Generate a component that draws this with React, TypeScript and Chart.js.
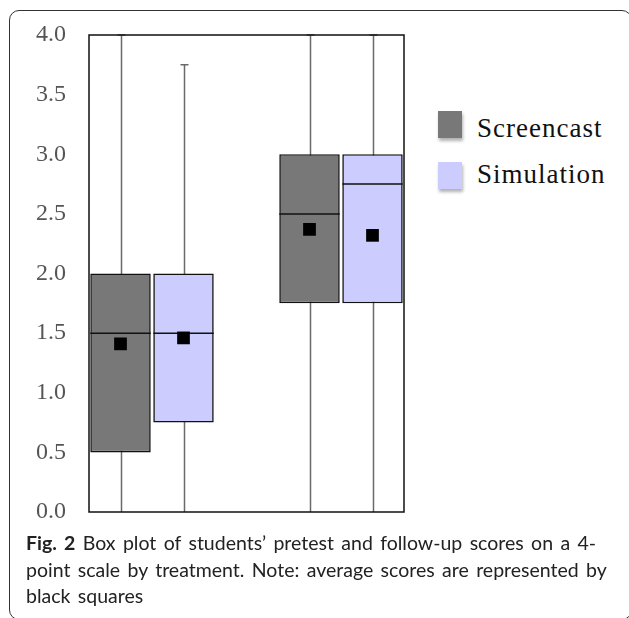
import React, { useEffect, useRef } from "react";
import { Chart, registerables } from "chart.js";

Chart.register(...registerables);

// ---- data ----
const slotLabels = ["Pretest Screencast", "Pretest Simulation", "", "Follow-up Screencast", "Follow-up Simulation"];
const screencastSlots = [0, 3];
const simulationSlots = [1, 4];

const screencastMin = [0, 0];
const screencastQ1 = [0.5, 1.75];
const screencastMedian = [1.5, 2.5];
const screencastQ3 = [2.0, 3.0];
const screencastMax = [4.0, 4.0];
const screencastMean = [1.41, 2.37];

const simulationMin = [0, 0];
const simulationQ1 = [0.75, 1.75];
const simulationMedian = [1.5, 2.75];
const simulationQ3 = [2.0, 3.0];
const simulationMax = [3.75, 4.0];
const simulationMean = [1.46, 2.32];

const yTicks = [0, 0.5, 1, 1.5, 2, 2.5, 3, 3.5, 4];

const SCREENCAST_COLOR = "#787878";
const SIMULATION_COLOR = "#CCCCFF";

type Stat = { min: number; q1: number; med: number; q3: number; max: number; mean: number } | null;

function buildStats(slots: number[], mins: number[], q1: number[], med: number[], q3: number[], max: number[], mean: number[]): Stat[] {
  const out: Stat[] = slotLabels.map(() => null);
  slots.forEach((s, i) => {
    out[s] = { min: mins[i], q1: q1[i], med: med[i], q3: q3[i], max: max[i], mean: mean[i] };
  });
  return out;
}

const boxPlotPlugin = {
  id: "boxPlotExtras",
  beforeDatasetsDraw(chart: any) {
    const ctx = chart.ctx;
    const x = chart.scales.x;
    const y = chart.scales.y;
    ctx.save();
    chart.data.datasets.forEach((ds: any) => {
      if (!ds.stats) return;
      ds.stats.forEach((s: Stat, i: number) => {
        if (!s) return;
        const cx = Math.round(x.getPixelForValue(i)) + 0.5;
        ctx.strokeStyle = "#6a6a6a";
        ctx.lineWidth = 1.5;
        ctx.beginPath();
        ctx.moveTo(cx, y.getPixelForValue(s.min));
        ctx.lineTo(cx, y.getPixelForValue(s.max));
        const ty = y.getPixelForValue(s.max);
        ctx.moveTo(cx - 4, ty);
        ctx.lineTo(cx + 4, ty);
        ctx.stroke();
      });
    });
    ctx.restore();
  },
  afterDatasetDraw(chart: any, args: any) {
    const ds: any = chart.data.datasets[args.index];
    if (!ds.stats) return;
    const ctx = chart.ctx;
    const y = chart.scales.y;
    const meta = chart.getDatasetMeta(args.index);
    ctx.save();
    ctx.strokeStyle = "#111";
    ctx.lineWidth = 1.5;
    ds.stats.forEach((s: Stat, i: number) => {
      if (!s) return;
      const el: any = meta.data[i];
      const py = y.getPixelForValue(s.med);
      ctx.beginPath();
      ctx.moveTo(el.x - el.width / 2, py);
      ctx.lineTo(el.x + el.width / 2, py);
      ctx.stroke();
    });
    ctx.restore();
  },
  afterDraw(chart: any) {
    const { left, top, right, bottom } = chart.chartArea;
    const ctx = chart.ctx;
    ctx.save();
    ctx.strokeStyle = "#111";
    ctx.lineWidth = 1.5;
    ctx.strokeRect(left, top, right - left, bottom - top);
    ctx.restore();
  },
};

export default function App() {
  const canvasRef = useRef<HTMLCanvasElement | null>(null);

  useEffect(() => {
    if (!canvasRef.current) return;
    const scStats = buildStats(screencastSlots, screencastMin, screencastQ1, screencastMedian, screencastQ3, screencastMax, screencastMean);
    const simStats = buildStats(simulationSlots, simulationMin, simulationQ1, simulationMedian, simulationQ3, simulationMax, simulationMean);
    const means = slotLabels.map((_, i) => (scStats[i] ? scStats[i]!.mean : simStats[i] ? simStats[i]!.mean : null));

    const chart = new Chart(canvasRef.current, {
      type: "bar",
      data: {
        labels: slotLabels,
        datasets: [
          {
            type: "bar",
            label: "Screencast",
            data: scStats.map((s) => (s ? [s.q1, s.q3] : null)) as any,
            backgroundColor: SCREENCAST_COLOR,
            borderColor: "#111",
            borderWidth: 1.6,
            borderSkipped: false,
            grouped: false,
            barPercentage: 1,
            categoryPercentage: 0.96,
            order: 1,
            stats: scStats,
          } as any,
          {
            type: "bar",
            label: "Simulation",
            data: simStats.map((s) => (s ? [s.q1, s.q3] : null)) as any,
            backgroundColor: SIMULATION_COLOR,
            borderColor: "#111",
            borderWidth: 1.6,
            borderSkipped: false,
            grouped: false,
            barPercentage: 1,
            categoryPercentage: 0.96,
            order: 1,
            stats: simStats,
          } as any,
          {
            type: "line",
            label: "Mean",
            data: means as any,
            showLine: false,
            pointStyle: "rect",
            pointRadius: 9,
            pointBackgroundColor: "#000",
            pointBorderColor: "#000",
            pointBorderWidth: 0,
            order: 0,
          } as any,
        ],
      },
      options: {
        animation: false,
        responsive: false,
        maintainAspectRatio: false,
        devicePixelRatio: 1,
        layout: { padding: { left: 0, top: 35, right: 16, bottom: 28 } },
        plugins: { legend: { display: false }, tooltip: { enabled: false } },
        scales: {
          x: { type: "category", display: false, offset: true, grid: { display: false } },
          y: {
            min: 0,
            max: 4,
            afterFit: (scale: any) => {
              scale.width = 89;
              scale.paddingTop = 0;
              scale.paddingBottom = 0;
            },
            afterBuildTicks: (scale: any) => {
              scale.ticks = yTicks.map((v) => ({ value: v }));
            },
            grid: { display: false, drawTicks: false },
            border: { display: false },
            ticks: {
              color: "#555",
              padding: 23,
              font: { family: "'Liberation Serif', 'Times New Roman', serif", size: 24 },
              callback: (v: any) => Number(v).toFixed(1),
            },
          },
        },
      } as any,
      plugins: [boxPlotPlugin],
    });
    return () => chart.destroy();
  }, []);

  const legendText: React.CSSProperties = {
    position: "absolute",
    left: 477,
    fontFamily: "'Liberation Serif', 'Times New Roman', serif",
    fontSize: 27,
    lineHeight: "27px",
    letterSpacing: "1px",
    color: "#111",
    whiteSpace: "nowrap",
  };
  const legendBox = (color: string, top: number): React.CSSProperties => ({
    position: "absolute",
    left: 438,
    top,
    width: 24,
    height: 27,
    background: color,
    boxShadow: "1px 3px 3px rgba(0,0,0,0.3)",
  });
  const captionLine: React.CSSProperties = { whiteSpace: "nowrap" };

  return (
    <div style={{ position: "absolute", left: 0, top: 0, width: 629, height: 618, overflow: "hidden", background: "#fff" }}>
      <div
        style={{
          position: "absolute",
          left: 9,
          top: 10,
          width: 623,
          height: 610,
          boxSizing: "border-box",
          border: "1.5px solid #333",
          borderRadius: 10,
        }}
      />
      <canvas ref={canvasRef} width={420} height={540} style={{ position: "absolute", left: 0, top: 0, width: 420, height: 540 }} />
      <div style={legendBox(SCREENCAST_COLOR, 111)} />
      <div style={{ ...legendText, top: 114.7 }}>Screencast</div>
      <div style={legendBox(SIMULATION_COLOR, 162)} />
      <div style={{ ...legendText, top: 160.7 }}>Simulation</div>
      <div
        style={{
          position: "absolute",
          left: 26,
          top: 530,
          fontFamily: "Lato, 'Open Sans', sans-serif",
          fontSize: 19.5,
          lineHeight: "26.7px",
          wordSpacing: "2.4px",
          color: "#222",
        }}
      >
        <div style={captionLine}>
          <b>Fig. 2</b> Box plot of students’ pretest and follow-up scores on a 4-
        </div>
        <div style={captionLine}>point scale by treatment. Note: average scores are represented by</div>
        <div style={captionLine}>black squares</div>
      </div>
    </div>
  );
}
